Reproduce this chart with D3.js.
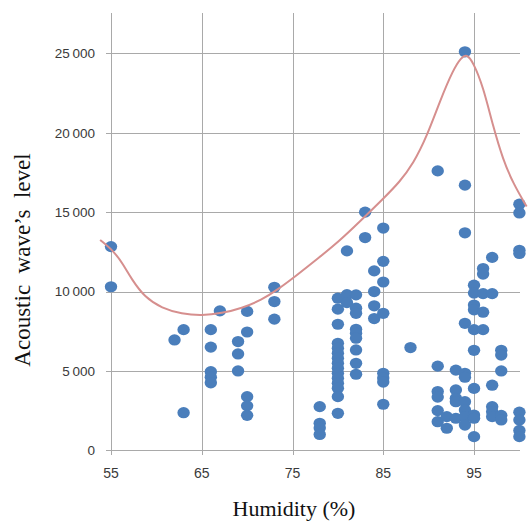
<!DOCTYPE html>
<html>
<head>
<meta charset="utf-8">
<script src="https://cdn.jsdelivr.net/npm/d3@7"></script>
<style>
	body { margin: 0; background: #fff; }
	svg { display: block; }
</style>
</head>
<body>
<script>
// humidity (%) and level of each measured point
var humidity = [
	55, 55,
	62, 63, 63,
	66, 66, 66, 66, 66,
	67,
	69, 69, 69,
	70, 70, 70, 70, 70,
	73, 73, 73,
	78, 78, 78, 78,
	80, 80, 80, 80, 80, 80, 80, 80, 80, 80, 80, 80, 80, 80, 80,
	81, 81, 81,
	82, 82, 82, 82, 82, 82, 82, 82, 82,
	83, 83,
	84, 84, 84, 84,
	85, 85, 85, 85, 85, 85, 85, 85,
	88,
	91, 91, 91, 91, 91, 91,
	92, 92,
	93, 93, 93, 93, 93,
	94, 94, 94, 94, 94, 94, 94, 94, 94, 94,
	95, 95, 95, 95, 95, 95, 95, 95, 95, 95,
	96, 96, 96, 96, 96,
	97, 97, 97, 97, 97, 97,
	98, 98, 98, 98, 98,
	100, 100, 100, 100, 100, 100, 100, 100
];
var level = [
	12830, 10300,
	6950, 7600, 2370,
	7600, 6500, 4950, 4600, 4250,
	8780,
	6850, 6070, 5000,
	8750, 7450, 3380, 2800, 2200,
	10270, 9370, 8260,
	2750, 1700, 1400, 1000,
	9580, 8890, 7940, 6740, 6430, 6110, 5800, 5480, 5170, 4850, 4540, 4220, 3910, 3380, 2330,
	12560, 9800, 9300,
	9790, 8950, 8630, 7620, 7370, 7060, 6320, 5480, 4790,
	15000, 13400,
	11300, 10000, 9100, 8300,
	14000, 11900, 10600, 8630, 4850, 4550, 4300, 2900,
	6470,
	17600, 5300, 3700, 3350, 2500, 1800,
	2120, 1390,
	5050, 3800, 3280, 3060, 2020,
	25100, 16700, 13700, 8000, 4850, 4600, 3060, 2540, 2120, 1590,
	10400, 9900, 9150, 8850, 7600, 6300, 3900, 2220, 2020, 860,
	11450, 11100, 9870, 8700, 7600,
	12150, 9870, 4100, 2750, 2430, 2120,
	6300, 6000, 5000, 2200, 1910,
	15500, 14950, 12600, 12400, 2400, 1910, 1250, 860
];

// smoothed trend line
var trendHumidity = [53.8, 55.3, 56.3, 57.3, 58.7, 60.6, 62.8, 65, 67.2, 69.4, 71.6, 73.3, 75.3, 77.8, 80.2, 82.4, 85, 86.8, 88.3, 89.8, 91.3, 92.7, 93.6, 94.2, 94.9, 96.0, 97.1, 98.2, 99.3, 100.8];
var trendLevel = [13250, 12550, 11750, 10750, 9650, 8950, 8590, 8480, 8630, 8950, 9470, 10100, 10950, 12080, 13200, 14400, 15850, 16900, 18050, 19760, 22080, 23970, 24750, 24950, 24450, 22920, 20400, 18300, 16830, 15350];

var xTicks = [55, 65, 75, 85, 95];
var yTicks = [0, 5000, 10000, 15000, 20000, 25000];

var svg = d3.select("body").append("svg")
	.attr("width", 529)
	.attr("height", 522);

var x = d3.scaleLinear().domain([55, 100]).range([111, 519.4]);
var y = d3.scaleLinear().domain([0, 27500]).range([450.3, 13.7]);

var fmt = function(d){
	return d3.format(",")(d).replace(",", "\u2009");
};

// grid
var grid = svg.append("g").attr("stroke", "#a9a9a9").attr("stroke-width", 1);
grid.selectAll(".hline").data(yTicks).enter().append("line")
	.attr("class", "hline")
	.attr("x1", 106).attr("x2", 520)
	.attr("y1", function(d){return Math.round(y(d)) + 0.5;})
	.attr("y2", function(d){return Math.round(y(d)) + 0.5;});
grid.selectAll(".vline").data(xTicks).enter().append("line")
	.attr("class", "vline")
	.attr("y1", 13).attr("y2", 455)
	.attr("x1", function(d){return Math.round(x(d)) + 0.5;})
	.attr("x2", function(d){return Math.round(x(d)) + 0.5;});

// tick labels
svg.append("g")
	.attr("font-family", "Liberation Sans, Arial, sans-serif")
	.attr("font-size", 13.5)
	.attr("fill", "#3a3a3a")
	.attr("text-anchor", "end")
	.selectAll("text").data(yTicks).enter().append("text")
	.attr("x", 95)
	.attr("y", function(d){return y(d);})
	.attr("dy", "0.36em")
	.text(fmt);

svg.append("g")
	.attr("font-family", "Liberation Sans, Arial, sans-serif")
	.attr("font-size", 14)
	.attr("fill", "#3a3a3a")
	.attr("text-anchor", "middle")
	.selectAll("text").data(xTicks).enter().append("text")
	.attr("x", function(d){return x(d);})
	.attr("y", 478)
	.text(function(d){return d;});

// points
var pts = d3.range(humidity.length);
svg.append("g").attr("fill", "#4a7ebb")
	.selectAll("ellipse").data(pts).enter().append("ellipse")
	.attr("cx", function(i){return x(humidity[i]);})
	.attr("cy", function(i){return y(level[i]);})
	.attr("rx", 6.2)
	.attr("ry", 5.6);

// trend line
var line = d3.line()
	.x(function(i){return x(trendHumidity[i]);})
	.y(function(i){return y(trendLevel[i]);})
	.curve(d3.curveBasis);
svg.append("path")
	.attr("d", line(d3.range(trendHumidity.length)))
	.attr("fill", "none")
	.attr("stroke", "#d68f8e")
	.attr("stroke-width", 2);

// axis titles
svg.append("text")
	.attr("transform", "translate(30,260) rotate(-90)")
	.attr("text-anchor", "middle")
	.attr("font-family", "Liberation Serif, Times New Roman, serif")
	.attr("font-size", 23)
	.attr("fill", "#111")
	.style("white-space", "pre")
	.text("Acoustic  wave\u2019s  level");

svg.append("text")
	.attr("x", 294)
	.attr("y", 516)
	.attr("text-anchor", "middle")
	.attr("font-family", "Liberation Serif, Times New Roman, serif")
	.attr("font-size", 22)
	.attr("fill", "#111")
	.text("Humidity (%)");
</script>
</body>
</html>
